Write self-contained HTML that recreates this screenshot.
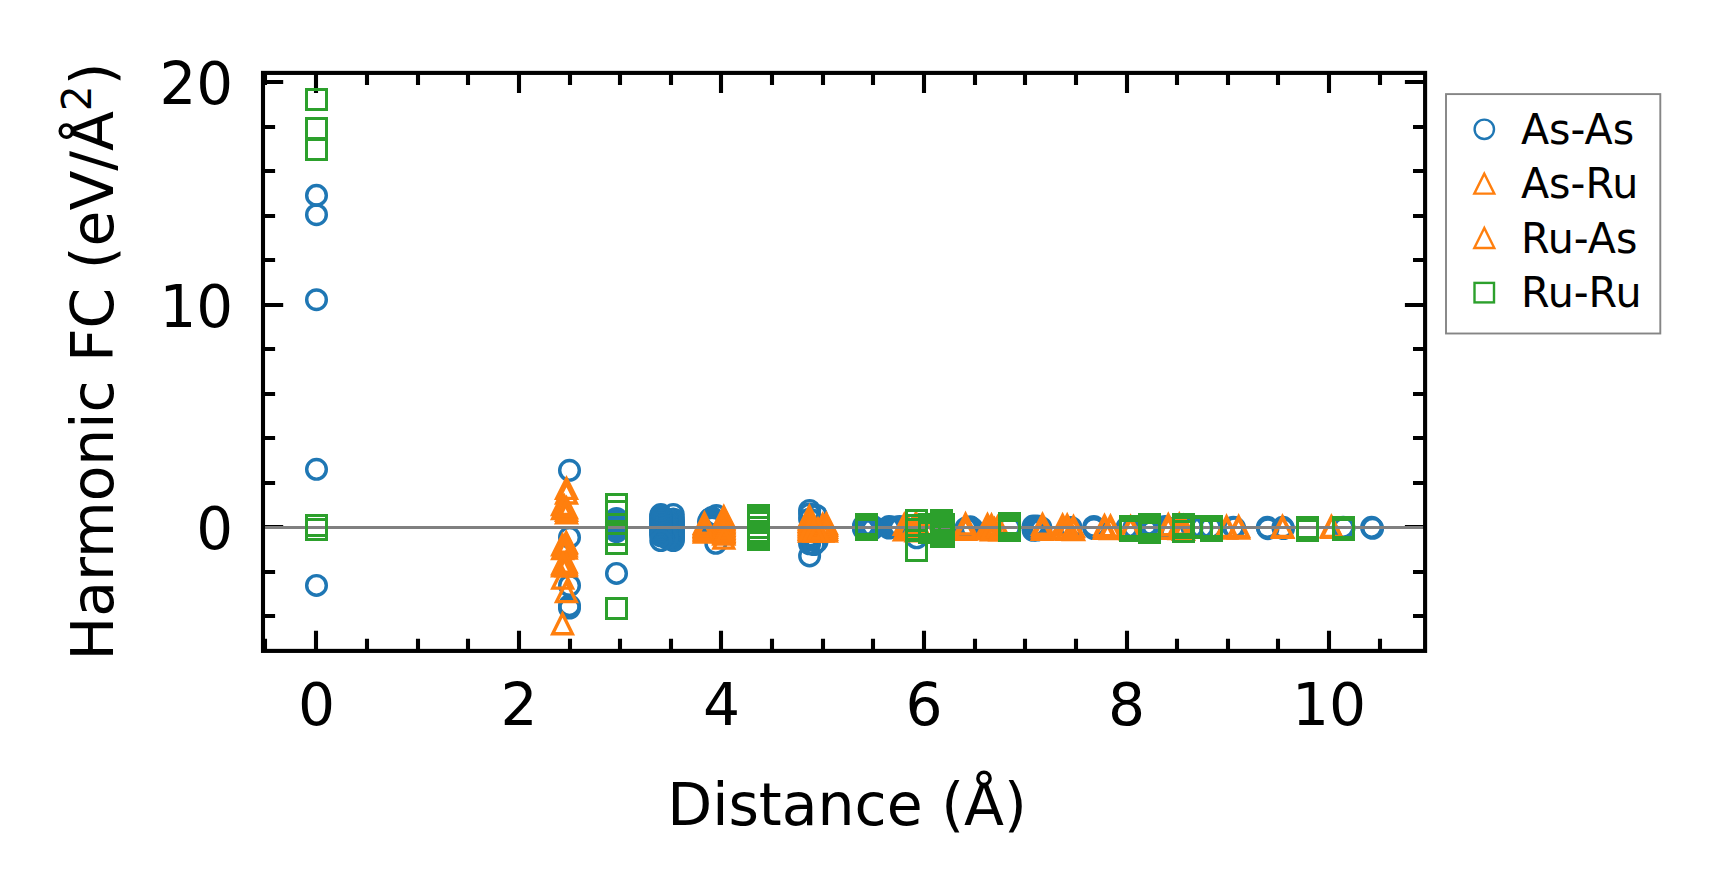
<!DOCTYPE html>
<html lang="en"><head><meta charset="utf-8"><title>Harmonic FC vs Distance</title>
<style>html,body{margin:0;padding:0;background:#fff}body{width:1719px;height:896px;overflow:hidden}svg{display:block}</style>
</head><body>
<svg width="1719" height="896" viewBox="0 0 1719 896" font-family="'DejaVu Sans', 'Liberation Sans', sans-serif">
<rect width="1719" height="896" fill="#fff"/>
<path d="M265.0 650.9v-12.1M265.0 72.9v12.1M316.0 650.9v-20.2M316.0 72.9v20.2M367.0 650.9v-12.1M367.0 72.9v12.1M418.0 650.9v-12.1M418.0 72.9v12.1M468.0 650.9v-12.1M468.0 72.9v12.1M519.0 650.9v-20.2M519.0 72.9v20.2M570.0 650.9v-12.1M570.0 72.9v12.1M620.0 650.9v-12.1M620.0 72.9v12.1M671.0 650.9v-12.1M671.0 72.9v12.1M721.0 650.9v-20.2M721.0 72.9v20.2M772.0 650.9v-12.1M772.0 72.9v12.1M823.0 650.9v-12.1M823.0 72.9v12.1M873.0 650.9v-12.1M873.0 72.9v12.1M924.0 650.9v-20.2M924.0 72.9v20.2M975.0 650.9v-12.1M975.0 72.9v12.1M1025.0 650.9v-12.1M1025.0 72.9v12.1M1076.0 650.9v-12.1M1076.0 72.9v12.1M1127.0 650.9v-20.2M1127.0 72.9v20.2M1177.0 650.9v-12.1M1177.0 72.9v12.1M1228.0 650.9v-12.1M1228.0 72.9v12.1M1278.0 650.9v-12.1M1278.0 72.9v12.1M1329.0 650.9v-20.2M1329.0 72.9v20.2M1380.0 650.9v-12.1M1380.0 72.9v12.1M263.0 616.0h12.1M1425.1 616.0h-12.1M263.0 572.0h12.1M1425.1 572.0h-12.1M263.0 527.0h20.2M1425.1 527.0h-20.2M263.0 483.0h12.1M1425.1 483.0h-12.1M263.0 438.0h12.1M1425.1 438.0h-12.1M263.0 394.0h12.1M1425.1 394.0h-12.1M263.0 349.0h12.1M1425.1 349.0h-12.1M263.0 305.0h20.2M1425.1 305.0h-20.2M263.0 260.0h12.1M1425.1 260.0h-12.1M263.0 216.0h12.1M1425.1 216.0h-12.1M263.0 171.0h12.1M1425.1 171.0h-12.1M263.0 127.0h12.1M1425.1 127.0h-12.1M263.0 82.0h20.2M1425.1 82.0h-20.2" stroke="#000" stroke-width="4.1" fill="none"/>
<g fill="none" stroke-linejoin="miter">
<g stroke-width="3.45" stroke="#1f77b4"><circle cx="316.5" cy="195.4" r="9.8"/><circle cx="316.5" cy="214.7" r="9.8"/><circle cx="316.5" cy="299.7" r="9.8"/><circle cx="316.5" cy="469.3" r="9.8"/><circle cx="316.5" cy="585.4" r="9.8"/><circle cx="569.5" cy="470.3" r="9.8"/><circle cx="569.5" cy="537.4" r="9.8"/><circle cx="569.5" cy="585.5" r="9.8"/><circle cx="569.5" cy="605.6" r="9.8"/><circle cx="569.5" cy="608.0" r="9.8"/><circle cx="616.5" cy="518.4" r="9.8"/><circle cx="616.5" cy="519.9" r="9.8"/><circle cx="616.5" cy="521.3" r="9.8"/><circle cx="616.5" cy="522.8" r="9.8"/><circle cx="616.5" cy="524.3" r="9.8"/><circle cx="616.5" cy="525.7" r="9.8"/><circle cx="616.5" cy="527.2" r="9.8"/><circle cx="616.5" cy="528.7" r="9.8"/><circle cx="616.5" cy="530.1" r="9.8"/><circle cx="616.5" cy="531.6" r="9.8"/><circle cx="616.5" cy="573.4" r="9.8"/><circle cx="673.3" cy="514.4" r="9.8"/><circle cx="673.3" cy="519.0" r="9.8"/><circle cx="673.3" cy="520.7" r="9.8"/><circle cx="673.3" cy="522.3" r="9.8"/><circle cx="673.3" cy="524.0" r="9.8"/><circle cx="673.3" cy="525.6" r="9.8"/><circle cx="673.3" cy="527.3" r="9.8"/><circle cx="673.3" cy="529.0" r="9.8"/><circle cx="673.3" cy="530.6" r="9.8"/><circle cx="673.3" cy="532.3" r="9.8"/><circle cx="673.3" cy="534.0" r="9.8"/><circle cx="673.3" cy="535.6" r="9.8"/><circle cx="673.3" cy="537.3" r="9.8"/><circle cx="673.3" cy="538.9" r="9.8"/><circle cx="673.3" cy="540.6" r="9.8"/><circle cx="667.0" cy="519.0" r="9.8"/><circle cx="667.0" cy="521.7" r="9.8"/><circle cx="667.0" cy="524.4" r="9.8"/><circle cx="667.0" cy="527.1" r="9.8"/><circle cx="667.0" cy="529.9" r="9.8"/><circle cx="667.0" cy="532.6" r="9.8"/><circle cx="667.0" cy="535.3" r="9.8"/><circle cx="667.0" cy="538.0" r="9.8"/><circle cx="660.8" cy="514.6" r="9.8"/><circle cx="660.8" cy="516.2" r="9.8"/><circle cx="660.8" cy="517.9" r="9.8"/><circle cx="660.8" cy="519.5" r="9.8"/><circle cx="660.8" cy="521.1" r="9.8"/><circle cx="660.8" cy="522.8" r="9.8"/><circle cx="660.8" cy="524.4" r="9.8"/><circle cx="660.8" cy="526.0" r="9.8"/><circle cx="660.8" cy="527.6" r="9.8"/><circle cx="660.8" cy="529.3" r="9.8"/><circle cx="660.8" cy="530.9" r="9.8"/><circle cx="660.8" cy="532.5" r="9.8"/><circle cx="660.8" cy="534.2" r="9.8"/><circle cx="660.8" cy="535.8" r="9.8"/><circle cx="660.8" cy="540.6" r="9.8"/><circle cx="716.3" cy="515.6" r="9.8"/><circle cx="715.8" cy="543.3" r="9.8"/><circle cx="708.5" cy="521.6" r="9.8"/><circle cx="710.0" cy="519.0" r="9.8"/><circle cx="712.0" cy="517.5" r="9.8"/><circle cx="713.0" cy="521.0" r="9.8"/><circle cx="714.0" cy="524.0" r="9.8"/><circle cx="711.0" cy="523.0" r="9.8"/><circle cx="714.0" cy="519.5" r="9.8"/><circle cx="712.0" cy="527.0" r="9.8"/><circle cx="809.6" cy="510.4" r="9.8"/><circle cx="809.6" cy="514.0" r="9.8"/><circle cx="809.6" cy="519.0" r="9.8"/><circle cx="809.6" cy="536.0" r="9.8"/><circle cx="809.6" cy="540.0" r="9.8"/><circle cx="809.6" cy="543.8" r="9.8"/><circle cx="809.6" cy="555.9" r="9.8"/><circle cx="816.5" cy="515.5" r="9.8"/><circle cx="817.0" cy="541.5" r="9.8"/><circle cx="814.0" cy="544.5" r="9.8"/><circle cx="863.5" cy="526.0" r="9.8"/><circle cx="863.5" cy="529.0" r="9.8"/><circle cx="872.5" cy="526.0" r="9.8"/><circle cx="872.5" cy="529.0" r="9.8"/><circle cx="863.5" cy="527.5" r="9.8"/><circle cx="872.5" cy="527.5" r="9.8"/><circle cx="889.0" cy="526.4" r="9.8"/><circle cx="889.0" cy="528.1" r="9.8"/><circle cx="899.8" cy="526.4" r="9.8"/><circle cx="899.8" cy="528.1" r="9.8"/><circle cx="865.0" cy="527.5" r="9.8"/><circle cx="866.5" cy="527.5" r="9.8"/><circle cx="868.0" cy="527.5" r="9.8"/><circle cx="869.5" cy="527.5" r="9.8"/><circle cx="871.0" cy="527.5" r="9.8"/><circle cx="890.5" cy="527.2" r="9.8"/><circle cx="892.1" cy="527.2" r="9.8"/><circle cx="893.6" cy="527.2" r="9.8"/><circle cx="895.2" cy="527.2" r="9.8"/><circle cx="896.7" cy="527.2" r="9.8"/><circle cx="898.3" cy="527.2" r="9.8"/><circle cx="916.7" cy="537.8" r="9.8"/><circle cx="916.7" cy="527.5" r="9.8"/><circle cx="930.0" cy="527.5" r="9.8"/><circle cx="942.0" cy="528.0" r="9.8"/><circle cx="970.3" cy="526.8" r="9.8"/><circle cx="968.0" cy="527.5" r="9.8"/><circle cx="966.0" cy="528.0" r="9.8"/><circle cx="972.0" cy="528.2" r="9.8"/><circle cx="1009.5" cy="527.5" r="9.8"/><circle cx="1033.2" cy="526.1" r="9.8"/><circle cx="1033.2" cy="530.3" r="9.8"/><circle cx="1033.2" cy="528.2" r="9.8"/><circle cx="1035.0" cy="527.0" r="9.8"/><circle cx="1035.0" cy="529.5" r="9.8"/><circle cx="1037.0" cy="528.0" r="9.8"/><circle cx="1037.0" cy="526.0" r="9.8"/><circle cx="1037.0" cy="530.0" r="9.8"/><circle cx="1039.0" cy="527.5" r="9.8"/><circle cx="1040.8" cy="527.5" r="9.8"/><circle cx="1040.8" cy="529.5" r="9.8"/><circle cx="1071.0" cy="527.5" r="9.8"/><circle cx="1093.9" cy="526.4" r="9.8"/><circle cx="1093.9" cy="528.5" r="9.8"/><circle cx="1127.0" cy="527.5" r="9.8"/><circle cx="1134.0" cy="527.5" r="9.8"/><circle cx="1149.5" cy="527.5" r="9.8"/><circle cx="1153.0" cy="528.5" r="9.8"/><circle cx="1146.0" cy="527.0" r="9.8"/><circle cx="1149.5" cy="524.5" r="9.8"/><circle cx="1149.5" cy="531.0" r="9.8"/><circle cx="1146.5" cy="530.0" r="9.8"/><circle cx="1152.5" cy="525.5" r="9.8"/><circle cx="1147.0" cy="524.8" r="9.8"/><circle cx="1152.0" cy="531.0" r="9.8"/><circle cx="1165.0" cy="526.5" r="9.8"/><circle cx="1168.0" cy="528.5" r="9.8"/><circle cx="1192.0" cy="527.5" r="9.8"/><circle cx="1201.9" cy="527.5" r="9.8"/><circle cx="1210.5" cy="527.5" r="9.8"/><circle cx="1183.5" cy="527.5" r="9.8"/><circle cx="1233.4" cy="527.2" r="9.8"/><circle cx="1234.6" cy="527.8" r="9.8"/><circle cx="1267.3" cy="527.3" r="9.8"/><circle cx="1267.9" cy="528.7" r="9.8"/><circle cx="1282.9" cy="527.3" r="9.8"/><circle cx="1283.5" cy="528.6" r="9.8"/><circle cx="1343.2" cy="527.3" r="9.8"/><circle cx="1344.0" cy="528.0" r="9.8"/><circle cx="1371.6" cy="527.3" r="9.8"/><circle cx="1372.6" cy="528.3" r="9.8"/></g>
<g stroke-width="3.4" stroke="#ff7f0e"><path d="M566.5 478.8L556.7 498.4L576.3 498.4Z"/><path d="M566.5 483.4L556.7 503.0L576.3 503.0Z"/><path d="M566.5 498.3L556.7 517.9L576.3 517.9Z"/><path d="M566.5 503.3L556.7 522.9L576.3 522.9Z"/><path d="M562.5 494.9L552.7 514.5L572.2 514.5Z"/><path d="M562.5 498.9L552.7 518.5L572.2 518.5Z"/><path d="M566.5 500.8L556.7 520.4L576.3 520.4Z"/><path d="M564.4 496.5L554.6 516.1L574.2 516.1Z"/><path d="M566.2 532.8L556.4 552.3L576.0 552.3Z"/><path d="M566.2 533.9L556.4 553.5L576.0 553.5Z"/><path d="M566.2 536.2L556.4 555.8L576.0 555.8Z"/><path d="M566.2 538.4L556.4 558.0L576.0 558.0Z"/><path d="M562.5 535.2L552.8 554.8L572.3 554.8Z"/><path d="M562.5 539.0L552.8 558.6L572.3 558.6Z"/><path d="M564.4 537.2L554.6 556.8L574.2 556.8Z"/><path d="M566.2 552.5L556.4 572.1L576.0 572.1Z"/><path d="M566.2 554.4L556.4 574.0L576.0 574.0Z"/><path d="M566.2 556.3L556.4 575.9L576.0 575.9Z"/><path d="M562.5 556.3L552.8 575.9L572.3 575.9Z"/><path d="M562.5 554.2L552.8 573.8L572.3 573.8Z"/><path d="M562.7 568.5L552.9 588.1L572.5 588.1Z"/><path d="M566.4 582.0L556.6 601.6L576.2 601.6Z"/><path d="M562.5 614.1L552.7 633.7L572.3 633.7Z"/><path d="M704.4 513.6L694.6 533.2L714.2 533.2Z"/><path d="M704.4 515.1L694.6 534.7L714.2 534.7Z"/><path d="M704.4 516.6L694.6 536.2L714.2 536.2Z"/><path d="M704.4 518.0L694.6 537.6L714.2 537.6Z"/><path d="M704.4 519.5L694.6 539.1L714.2 539.1Z"/><path d="M704.4 521.0L694.6 540.6L714.2 540.6Z"/><path d="M704.4 522.5L694.6 542.1L714.2 542.1Z"/><path d="M723.8 507.1L714.0 526.6L733.6 526.6Z"/><path d="M723.8 508.5L714.0 528.1L733.6 528.1Z"/><path d="M723.8 510.0L714.0 529.6L733.6 529.6Z"/><path d="M723.8 511.4L714.0 531.0L733.6 531.0Z"/><path d="M723.8 512.9L714.0 532.5L733.6 532.5Z"/><path d="M723.8 514.3L714.0 533.9L733.6 533.9Z"/><path d="M723.8 515.8L714.0 535.4L733.6 535.4Z"/><path d="M723.8 517.2L714.0 536.8L733.6 536.8Z"/><path d="M723.8 518.7L714.0 538.3L733.6 538.3Z"/><path d="M723.8 520.1L714.0 539.7L733.6 539.7Z"/><path d="M723.8 521.6L714.0 541.2L733.6 541.2Z"/><path d="M723.8 523.0L714.0 542.6L733.6 542.6Z"/><path d="M723.8 524.5L714.0 544.1L733.6 544.1Z"/><path d="M723.8 528.6L714.0 548.1L733.6 548.1Z"/><path d="M809.4 506.6L799.6 526.2L819.2 526.2Z"/><path d="M809.4 508.3L799.6 527.9L819.2 527.9Z"/><path d="M809.4 509.9L799.6 529.5L819.2 529.5Z"/><path d="M809.4 511.6L799.6 531.2L819.2 531.2Z"/><path d="M809.4 513.2L799.6 532.8L819.2 532.8Z"/><path d="M809.4 514.9L799.6 534.5L819.2 534.5Z"/><path d="M809.4 516.5L799.6 536.1L819.2 536.1Z"/><path d="M809.4 518.2L799.6 537.8L819.2 537.8Z"/><path d="M809.4 519.8L799.6 539.4L819.2 539.4Z"/><path d="M809.4 521.5L799.6 541.1L819.2 541.1Z"/><path d="M822.7 514.7L812.9 534.3L832.5 534.3Z"/><path d="M822.7 517.7L812.9 537.3L832.5 537.3Z"/><path d="M822.7 521.5L812.9 541.1L832.5 541.1Z"/><path d="M826.4 514.0L816.6 533.6L836.2 533.6Z"/><path d="M826.4 515.7L816.6 535.3L836.2 535.3Z"/><path d="M826.4 517.7L816.6 537.3L836.2 537.3Z"/><path d="M826.4 519.7L816.6 539.3L836.2 539.3Z"/><path d="M826.4 521.5L816.6 541.1L836.2 541.1Z"/><path d="M818.0 519.2L808.2 538.8L827.8 538.8Z"/><path d="M818.0 521.5L808.2 541.1L827.8 541.1Z"/><path d="M814.0 521.5L804.2 541.1L823.8 541.1Z"/><path d="M904.3 514.7L894.5 534.3L914.1 534.3Z"/><path d="M904.3 520.2L894.5 539.8L914.1 539.8Z"/><path d="M908.0 517.7L898.2 537.3L917.8 537.3Z"/><path d="M912.0 519.7L902.2 539.3L921.8 539.3Z"/><path d="M916.0 517.6L906.2 537.2L925.8 537.2Z"/><path d="M916.0 513.2L906.2 532.8L925.8 532.8Z"/><path d="M916.0 521.2L906.2 540.8L925.8 540.8Z"/><path d="M920.0 518.2L910.2 537.8L929.8 537.8Z"/><path d="M926.0 519.2L916.2 538.8L935.8 538.8Z"/><path d="M965.5 514.4L955.7 534.0L975.3 534.0Z"/><path d="M965.5 519.6L955.7 539.2L975.3 539.2Z"/><path d="M965.5 518.2L955.7 537.8L975.3 537.8Z"/><path d="M987.5 517.2L977.7 536.8L997.3 536.8Z"/><path d="M991.5 517.9L981.7 537.5L1001.3 537.5Z"/><path d="M994.5 519.2L984.7 538.8L1004.3 538.8Z"/><path d="M987.5 515.1L977.7 534.7L997.3 534.7Z"/><path d="M987.5 519.2L977.7 538.8L997.3 538.8Z"/><path d="M991.5 515.5L981.7 535.1L1001.3 535.1Z"/><path d="M991.5 520.2L981.7 539.8L1001.3 539.8Z"/><path d="M997.6 517.5L987.8 537.1L1007.4 537.1Z"/><path d="M1000.0 520.2L990.2 539.8L1009.8 539.8Z"/><path d="M1042.5 514.7L1032.7 534.3L1052.3 534.3Z"/><path d="M1042.4 519.8L1032.6 539.4L1052.2 539.4Z"/><path d="M1042.5 517.2L1032.7 536.8L1052.2 536.8Z"/><path d="M1062.6 515.5L1052.8 535.1L1072.4 535.1Z"/><path d="M1062.6 519.2L1052.8 538.8L1072.4 538.8Z"/><path d="M1067.2 515.5L1057.4 535.1L1077.0 535.1Z"/><path d="M1067.2 519.7L1057.4 539.3L1077.0 539.3Z"/><path d="M1073.5 517.0L1063.7 536.6L1083.3 536.6Z"/><path d="M1073.6 520.0L1063.8 539.6L1083.4 539.6Z"/><path d="M1104.5 516.0L1094.7 535.6L1114.3 535.6Z"/><path d="M1104.4 518.8L1094.6 538.4L1114.2 538.4Z"/><path d="M1110.5 516.5L1100.7 536.1L1120.3 536.1Z"/><path d="M1110.6 519.0L1100.8 538.6L1120.4 538.6Z"/><path d="M1130.6 517.0L1120.8 536.6L1140.4 536.6Z"/><path d="M1130.6 519.2L1120.8 538.8L1140.4 538.8Z"/><path d="M1168.3 515.0L1158.5 534.6L1178.1 534.6Z"/><path d="M1168.3 518.7L1158.5 538.3L1178.1 538.3Z"/><path d="M1179.3 514.5L1169.5 534.1L1189.1 534.1Z"/><path d="M1179.3 519.0L1169.5 538.6L1189.1 538.6Z"/><path d="M1183.5 516.2L1173.7 535.8L1193.3 535.8Z"/><path d="M1183.5 519.7L1173.7 539.3L1193.3 539.3Z"/><path d="M1226.5 516.9L1216.7 536.5L1236.3 536.5Z"/><path d="M1226.5 518.5L1216.7 538.1L1236.3 538.1Z"/><path d="M1238.6 516.9L1228.8 536.5L1248.4 536.5Z"/><path d="M1238.6 518.5L1228.8 538.1L1248.4 538.1Z"/><path d="M1282.4 516.9L1272.6 536.5L1292.2 536.5Z"/><path d="M1282.8 517.8L1273.0 537.4L1292.6 537.4Z"/><path d="M1331.3 516.9L1321.5 536.5L1341.1 536.5Z"/><path d="M1331.8 517.8L1322.0 537.4L1341.6 537.4Z"/></g>
<line x1="263.0" x2="1425.1" y1="527.5" y2="527.5" stroke="#808080" stroke-width="2.9"/>
<g stroke-width="3" stroke="#2ca02c"><rect x="306.5" y="89.5" width="20.0" height="20.0"/><rect x="306.5" y="118.5" width="20.0" height="20.0"/><rect x="306.5" y="139.5" width="20.0" height="20.0"/><rect x="306.5" y="515.5" width="20.0" height="20.0"/><rect x="306.5" y="519.5" width="20.0" height="20.0"/><rect x="606.5" y="494.5" width="20.0" height="20.0"/><rect x="606.5" y="501.5" width="20.0" height="20.0"/><rect x="606.5" y="524.5" width="20.0" height="20.0"/><rect x="606.5" y="533.5" width="20.0" height="20.0"/><rect x="606.5" y="598.5" width="20.0" height="20.0"/><rect x="748.5" y="505.5" width="20.0" height="20.0"/><rect x="748.5" y="508.5" width="20.0" height="20.0"/><rect x="748.5" y="509.5" width="20.0" height="20.0"/><rect x="748.5" y="511.5" width="20.0" height="20.0"/><rect x="748.5" y="512.5" width="20.0" height="20.0"/><rect x="748.5" y="517.5" width="20.0" height="20.0"/><rect x="748.5" y="521.5" width="20.0" height="20.0"/><rect x="748.5" y="522.5" width="20.0" height="20.0"/><rect x="748.5" y="524.5" width="20.0" height="20.0"/><rect x="748.5" y="525.5" width="20.0" height="20.0"/><rect x="748.5" y="527.5" width="20.0" height="20.0"/><rect x="748.5" y="529.5" width="20.0" height="20.0"/><rect x="856.5" y="514.5" width="20.0" height="20.0"/><rect x="856.5" y="516.5" width="20.0" height="20.0"/><rect x="856.5" y="517.5" width="20.0" height="20.0"/><rect x="856.5" y="519.5" width="20.0" height="20.0"/><rect x="906.5" y="510.5" width="20.0" height="20.0"/><rect x="906.5" y="515.5" width="20.0" height="20.0"/><rect x="906.5" y="519.5" width="20.0" height="20.0"/><rect x="906.5" y="540.5" width="20.0" height="20.0"/><rect x="919.5" y="514.5" width="20.0" height="20.0"/><rect x="919.5" y="517.5" width="20.0" height="20.0"/><rect x="919.5" y="520.5" width="20.0" height="20.0"/><rect x="919.5" y="522.5" width="20.0" height="20.0"/><rect x="931.5" y="510.5" width="20.0" height="20.0"/><rect x="931.5" y="513.5" width="20.0" height="20.0"/><rect x="931.5" y="516.5" width="20.0" height="20.0"/><rect x="931.5" y="519.5" width="20.0" height="20.0"/><rect x="931.5" y="522.5" width="20.0" height="20.0"/><rect x="931.5" y="525.5" width="20.0" height="20.0"/><rect x="931.5" y="526.5" width="20.0" height="20.0"/><rect x="933.5" y="514.5" width="20.0" height="20.0"/><rect x="933.5" y="517.5" width="20.0" height="20.0"/><rect x="933.5" y="520.5" width="20.0" height="20.0"/><rect x="933.5" y="523.5" width="20.0" height="20.0"/><rect x="933.5" y="526.5" width="20.0" height="20.0"/><rect x="999.5" y="513.5" width="20.0" height="20.0"/><rect x="999.5" y="514.5" width="20.0" height="20.0"/><rect x="999.5" y="516.5" width="20.0" height="20.0"/><rect x="999.5" y="518.5" width="20.0" height="20.0"/><rect x="999.5" y="520.5" width="20.0" height="20.0"/><rect x="1120.5" y="516.5" width="20.0" height="20.0"/><rect x="1120.5" y="518.5" width="20.0" height="20.0"/><rect x="1120.5" y="520.5" width="20.0" height="20.0"/><rect x="1139.5" y="514.5" width="20.0" height="20.0"/><rect x="1139.5" y="516.5" width="20.0" height="20.0"/><rect x="1139.5" y="518.5" width="20.0" height="20.0"/><rect x="1139.5" y="520.5" width="20.0" height="20.0"/><rect x="1139.5" y="522.5" width="20.0" height="20.0"/><rect x="1173.5" y="514.5" width="20.0" height="20.0"/><rect x="1173.5" y="517.5" width="20.0" height="20.0"/><rect x="1173.5" y="521.5" width="20.0" height="20.0"/><rect x="1191.5" y="516.5" width="20.0" height="20.0"/><rect x="1191.5" y="517.5" width="20.0" height="20.0"/><rect x="1201.5" y="516.5" width="20.0" height="20.0"/><rect x="1201.5" y="518.5" width="20.0" height="20.0"/><rect x="1201.5" y="520.5" width="20.0" height="20.0"/><rect x="1297.5" y="517.5" width="20.0" height="20.0"/><rect x="1297.5" y="520.5" width="20.0" height="20.0"/><rect x="1333.5" y="517.5" width="20.0" height="20.0"/><rect x="1333.5" y="519.5" width="20.0" height="20.0"/></g>
</g>
<rect x="263.0" y="72.9" width="1162.1" height="578.0" fill="none" stroke="#000" stroke-width="4.1"/>
<g font-size="58.3" fill="#000">
<text x="316.5" y="725.3" text-anchor="middle">0</text>
<text x="519.0" y="725.3" text-anchor="middle">2</text>
<text x="721.5" y="725.3" text-anchor="middle">4</text>
<text x="924.1" y="725.3" text-anchor="middle">6</text>
<text x="1126.6" y="725.3" text-anchor="middle">8</text>
<text x="1329.1" y="725.3" text-anchor="middle">10</text>
<text x="233.2" y="549.1" font-size="57.9" text-anchor="end">0</text>
<text x="233.2" y="326.6" font-size="57.9" text-anchor="end">10</text>
<text x="233.2" y="104.1" font-size="57.9" text-anchor="end">20</text>
<text x="847.0" y="824.8" text-anchor="middle" font-size="58.45">Distance (Å)</text>
<text transform="translate(112.8 361.5) rotate(-90)" text-anchor="middle">Harmonic FC (eV/Å<tspan font-size="40.8" dy="-22.2">2</tspan><tspan dy="22.2">)</tspan></text>
</g>
<rect x="1446.0" y="94.1" width="214.3" height="239.4" fill="#fff" fill-opacity="0.8" stroke="#858585" stroke-width="1.9"/>
<g fill="none" stroke-width="2.4">
<g stroke="#1f77b4"><circle cx="1484.3" cy="129.3" r="9.7"/></g>
<g stroke="#ff7f0e"><path d="M1484.3 173.6L1474.3 193.6L1494.3 193.6Z"/><path d="M1484.3 228.0L1474.3 248.0L1494.3 248.0Z"/></g>
<g stroke="#2ca02c"><rect x="1474.5" y="282.9" width="19.5" height="19.5"/></g>
</g>
<g font-size="41.2" fill="#000">
<text transform="translate(1520.9 143.7) scale(1 1.035)">As-As</text>
<text transform="translate(1520.9 198.2) scale(1 1.035)">As-Ru</text>
<text transform="translate(1520.9 252.6) scale(1 1.035)">Ru-As</text>
<text transform="translate(1520.9 307.0) scale(1 1.035)">Ru-Ru</text>
</g>
</svg>
</body></html>
